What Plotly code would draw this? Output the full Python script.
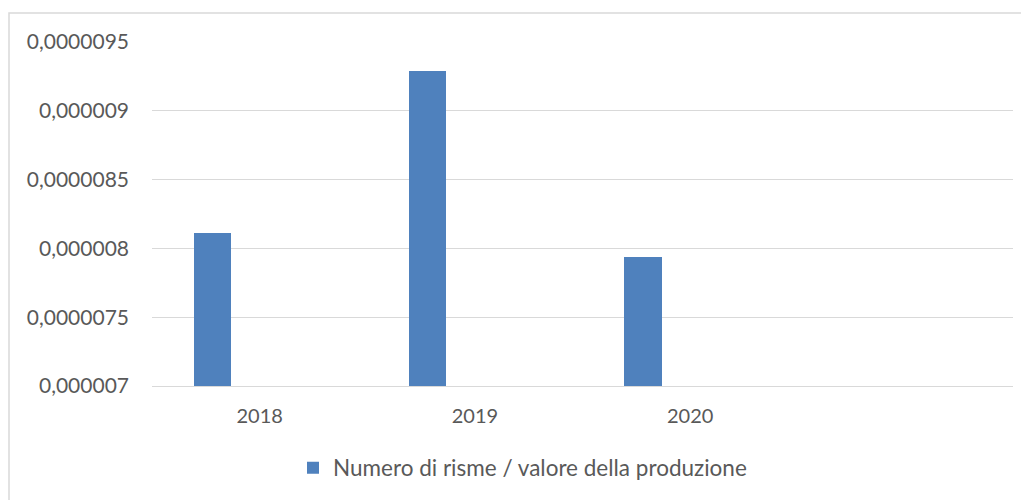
import plotly.graph_objects as go

# data
years = ["2018", "2019", "2020"]
values = [0.00000811, 0.00000929, 0.00000794]
series_name = "Numero di risme / valore della produzione"

y_ticks = [0.000007, 0.0000075, 0.000008, 0.0000085, 0.000009, 0.0000095]
y_ticklabels = ["0,000007", "0,0000075", "0,000008", "0,0000085", "0,000009", "0,0000095"]

# the page body adds an 8px offset, so the figure is a bit smaller
W, H = 1021, 492
left, right, top, bottom = 144, 16, 34, 114
pw = W - left - right
ph = H - top - bottom

xs = list(range(len(years)))

fig = go.Figure()
fig.add_trace(go.Bar(x=xs, y=values, name=series_name,
                     marker=dict(color="#4F81BD", line=dict(width=0)),
                     offset=-0.306, width=0.173))

fig.update_layout(
    width=W, height=H,
    margin=dict(l=left, r=right, t=top, b=bottom),
    paper_bgcolor="white", plot_bgcolor="white",
    font=dict(family="Lato", size=20, color="#595959"),
    showlegend=True,
    legend=dict(orientation="h", xref="container", yref="container",
                x=(333 - 8 - 40) / W, y=1 - (468 - 8) / H,
                xanchor="left", yanchor="middle",
                font=dict(size=22.5, color="#595959")),
    bargap=0,
)

fig.update_xaxes(range=[-0.5, 3.5], tickvals=xs, ticktext=years,
                 showgrid=False, zeroline=False, showline=True,
                 linecolor="#D9D9D9", linewidth=1, ticks="",
                 ticklabelstandoff=12)
fig.update_yaxes(range=[0.000007, 0.0000095], tickvals=y_ticks, ticktext=y_ticklabels,
                 tickfont=dict(size=21),
                 showgrid=True, gridcolor="#D9D9D9", gridwidth=1,
                 zeroline=False, showline=False, ticks="",
                 ticklabelstandoff=22)

# chart border like the Excel chart area
fig.add_shape(type="rect", xref="paper", yref="paper",
              x0=(1 - left) / pw, x1=(W + 5 - left) / pw,
              y0=-(H + 5 - top - ph) / ph, y1=(H - bottom - 5) / ph,
              line=dict(color="#D9D9D9", width=1.5), fillcolor="rgba(0,0,0,0)",
              layer="below")

fig.write_html("out.html")
